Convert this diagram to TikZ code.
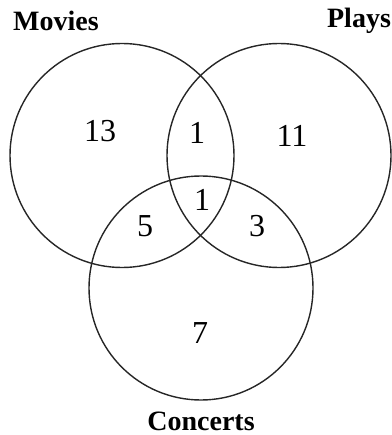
\documentclass[tikz,border=0pt]{standalone}
\usepackage{fontspec}
\setmainfont{Liberation Serif}
\usepackage{tikz}

\begin{document}
\begin{tikzpicture}[x=1pt,y=-1pt]
\useasboundingbox (0,0) rectangle (391,435);
\tikzset{set/.style={line width=1.4pt, draw=black!85},
  title/.style={font=\fontsize{28}{28}\selectfont\bfseries, inner sep=0pt},
  count/.style={font=\fontsize{32}{32}\selectfont, inner sep=0pt}}
\draw[set] (122,155.5) circle (112);
\draw[set] (279,155.5) circle (112);
\draw[set] (201,288) circle (112);
\node[title] (movies) at (56,21) {Movies};
\node[title] (plays) at (359,21) {Plays};
\node[title] (concerts) at (201,421) {Concerts};
\node[count] (m) at (100,131) {13};
\node[count] (mp) at (197,133) {1};
\node[count] (p) at (292,136) {11};
\node[count] (mpc) at (202,200) {1};
\node[count] (mc) at (145,226) {5};
\node[count] (pc) at (257,226) {3};
\node[count] (c) at (200,333) {7};
\end{tikzpicture}
\end{document}
